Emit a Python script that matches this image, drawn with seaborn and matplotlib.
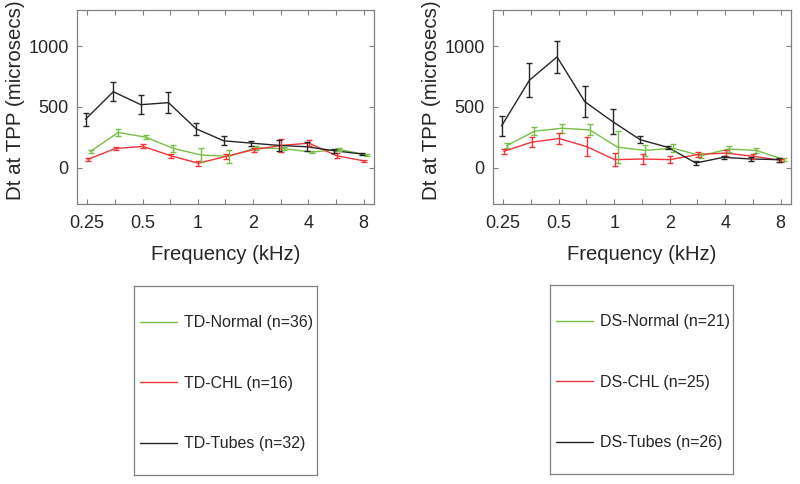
import matplotlib
matplotlib.use('Agg')
import numpy as np
import pandas as pd
import matplotlib.pyplot as plt
import seaborn as sns
from matplotlib.lines import Line2D
from matplotlib.ticker import FixedLocator, NullFormatter

# half-octave test frequencies (kHz)
freqs = [0.25, 0.354, 0.5, 0.707, 1, 1.414, 2, 2.828, 4, 5.657, 8]

# TD panel: mean Dt at TPP and error bar half-widths
td_normal = [134, 290, 251, 158, 104, 93, 164, 156, 128, 150, 104]
td_normal_err = [12, 30, 16, 26, 56, 55, 16, 14, 11, 11, 10]
td_chl = [68, 158, 175, 98, 36, 93, 148, 183, 202, 98, 55]
td_chl_err = [14, 16, 16, 16, 20, 22, 16, 56, 26, 19, 8]
td_tubes = [399, 626, 519, 536, 320, 221, 202, 183, 172, 139, 112]
td_tubes_err = [55, 77, 76, 87, 52, 38, 20, 46, 38, 18, 12]

# DS panel
ds_normal = [180, 300, 325, 311, 169, 142, 161, 98, 153, 142, 66]
ds_normal_err = [22, 33, 36, 46, 130, 44, 30, 22, 27, 22, 15]
ds_chl = [134, 210, 240, 172, 66, 71, 66, 109, 120, 93, 60]
ds_chl_err = [22, 40, 44, 78, 56, 45, 27, 19, 22, 22, 15]
ds_tubes = [344, 721, 913, 544, 380, 230, 167, 38, 85, 71, 66]
ds_tubes_err = [85, 139, 133, 127, 104, 27, 14, 20, 14, 19, 16]

td_labels = ['TD-Normal (n=36)', 'TD-CHL (n=16)', 'TD-Tubes (n=32)']
ds_labels = ['DS-Normal (n=21)', 'DS-CHL (n=25)', 'DS-Tubes (n=26)']

colors = ['#77c043', '#f0353a', '#262626']
# small horizontal jitter (in octaves) so error bars don't overlap
shifts = [0.06, 0.01, -0.03]

sns.set_style('ticks')
plt.rcParams['font.family'] = ['Liberation Sans', 'DejaVu Sans']

fig = plt.figure(figsize=(8, 4.84), dpi=100)
axL = fig.add_axes([77 / 800, 1 - 204 / 484, 297 / 800, 194 / 484])
axR = fig.add_axes([493 / 800, 1 - 204 / 484, 298 / 800, 194 / 484])

panels = [
    (axL, [td_normal, td_chl, td_tubes], [td_normal_err, td_chl_err, td_tubes_err], td_labels),
    (axR, [ds_normal, ds_chl, ds_tubes], [ds_normal_err, ds_chl_err, ds_tubes_err], ds_labels),
]

box_col = '#808080'
for ax, means, errs, labels in panels:
    rows = []
    for lab, m, e, sh in zip(labels, means, errs, shifts):
        for f, v, ee in zip(freqs, m, e):
            rows.append({'freq': f * 2 ** sh, 'dt': v, 'err': ee, 'group': lab})
    df = pd.DataFrame(rows)
    sns.lineplot(data=df, x='freq', y='dt', hue='group', palette=dict(zip(labels, colors)),
                 linewidth=1.0, legend=False, ax=ax, sort=False)
    for lab, c in zip(labels, colors):
        sub = df[df['group'] == lab]
        ax.errorbar(sub['freq'], sub['dt'], yerr=sub['err'], fmt='none', ecolor=c,
                    elinewidth=1.0, capsize=2.2, capthick=1.0)
    ax.set_xscale('log', base=2)
    ax.set_xlim(0.22, 9.1)
    ax.set_ylim(-300, 1300)
    ax.xaxis.set_major_locator(FixedLocator([0.25, 0.5, 1, 2, 4, 8]))
    ax.set_xticklabels(['0.25', '0.5', '1', '2', '4', '8'])
    ax.xaxis.set_minor_locator(FixedLocator([0.354, 0.707, 1.414, 2.828, 5.657]))
    ax.xaxis.set_minor_formatter(NullFormatter())
    ax.set_yticks([0, 500, 1000])
    ax.tick_params(which='both', direction='in', top=True, right=True, length=3.5,
                   width=0.8, color=box_col, labelsize=13, labelcolor='#262626')
    ax.tick_params(axis='x', pad=8)
    ax.tick_params(axis='y', pad=6)
    for s in ax.spines.values():
        s.set_color(box_col)
        s.set_linewidth(0.9)
    ax.set_xlabel('Frequency (kHz)', fontsize=14.6, color='#262626', labelpad=9)
    ax.set_ylabel('Dt at TPP (microsecs)', fontsize=14.8, color='#262626')
    ax.yaxis.set_label_coords(-0.175, 0.535)

# legend boxes below each panel
leg_boxes = [([134 / 800, 1 - 475 / 484, 183 / 800, 189 / 484], td_labels),
             ([550 / 800, 1 - 474 / 484, 183 / 800, 189 / 484], ds_labels)]
for rect, labels in leg_boxes:
    lax = fig.add_axes(rect)
    lax.set_xticks([])
    lax.set_yticks([])
    for s in lax.spines.values():
        s.set_color(box_col)
        s.set_linewidth(0.9)
    handles = [Line2D([], [], color=c, lw=1.0) for c in colors]
    lax.legend(handles, labels, loc='center left', bbox_to_anchor=(0, 0.485),
               frameon=False, fontsize=11.5,
               labelspacing=2.85, handlelength=2.3, handletextpad=0.4,
               borderpad=0, borderaxespad=0.4, labelcolor='#262626')

plt.savefig('out.png', dpi=100)
